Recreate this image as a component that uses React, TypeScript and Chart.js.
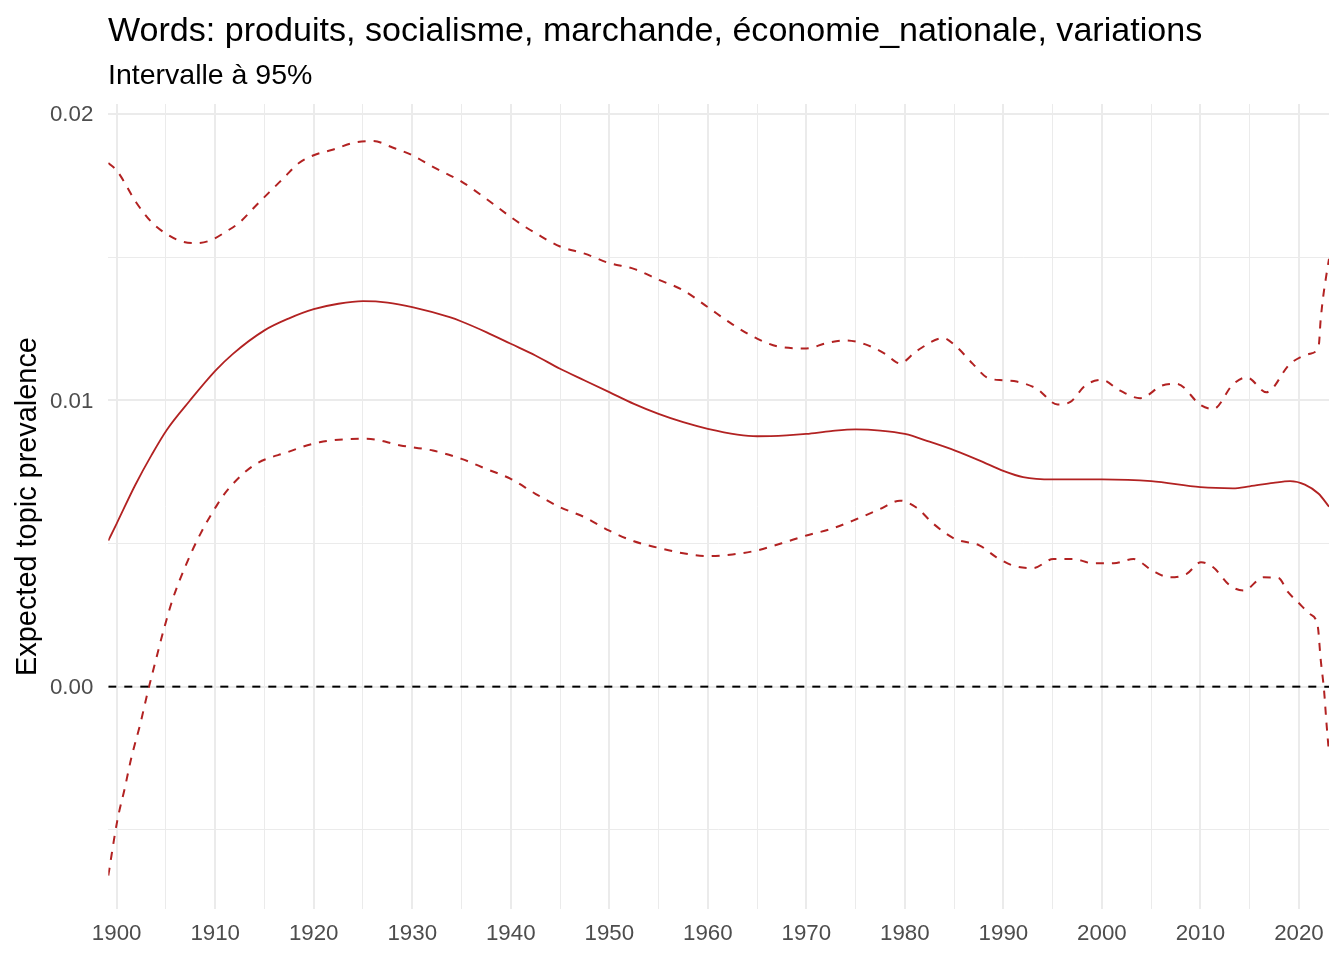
import React, { useEffect, useRef } from "react";
import { Chart, registerables } from "chart.js";

Chart.register(...registerables);

const titleText = "Words: produits, socialisme, marchande, économie_nationale, variations";
const subtitleText = "Intervalle à 95%";
const yAxisTitle = "Expected topic prevalence";

const xMin = 1899.15;
const xMax = 2023.05;
const yMin = -0.00777;
const yMax = 0.02036;

const xTickValues = [1900, 1905, 1910, 1915, 1920, 1925, 1930, 1935, 1940, 1945, 1950, 1955, 1960, 1965, 1970, 1975, 1980, 1985, 1990, 1995, 2000, 2005, 2010, 2015, 2020];
const xMajorTicks = [1900, 1910, 1920, 1930, 1940, 1950, 1960, 1970, 1980, 1990, 2000, 2010, 2020];
const yTickValues = [-0.005, 0, 0.005, 0.01, 0.015, 0.02];
const yMajorTicks = [0, 0.01, 0.02];
const yTickLabels = ["0.00", "0.01", "0.02"];

const midYears = [1899.15, 1900, 1901.86, 1903.55, 1905.1, 1907.44, 1910.05, 1911.8, 1915, 1917.5, 1920, 1922.5, 1925, 1927.5, 1930, 1933.8, 1935, 1937.5, 1940, 1942.5, 1945, 1947.5, 1950, 1952.5, 1955, 1957.5, 1960, 1963, 1965, 1968, 1970, 1972.5, 1975, 1977.5, 1980, 1982.5, 1985.1, 1987.6, 1990.06, 1992, 1995, 2000, 2005, 2010, 2013.3, 2015, 2017.4, 2019.1, 2020.6, 2022, 2023.05];
const midValues = [0.0051, 0.0057, 0.00703, 0.0081, 0.00898, 0.01, 0.01105, 0.01163, 0.01245, 0.01287, 0.01319, 0.01338, 0.01347, 0.01342, 0.01326, 0.01291, 0.01276, 0.01239, 0.01198, 0.01157, 0.01111, 0.0107, 0.01029, 0.00988, 0.00953, 0.00924, 0.00901, 0.00881, 0.00875, 0.00878, 0.00883, 0.00893, 0.00899, 0.00895, 0.00883, 0.00856, 0.00825, 0.0079, 0.00753, 0.00732, 0.00724, 0.00724, 0.00718, 0.00697, 0.00693, 0.007, 0.00712, 0.00718, 0.00706, 0.00674, 0.00629];

const upperYears = [1899.15, 1900, 1902, 1903.55, 1905, 1906.5, 1908, 1909.5, 1911, 1912.5, 1914, 1915.5, 1917, 1918.5, 1920, 1922, 1924, 1926, 1928, 1930, 1932, 1935, 1937.5, 1940, 1941.4, 1942.5, 1945, 1947.5, 1950, 1952.5, 1955, 1957.5, 1960, 1962.5, 1965, 1967.5, 1970, 1972, 1974, 1976, 1978, 1979.5, 1981.2, 1983.9, 1985.1, 1986.9, 1988.3, 1990.1, 1991.35, 1993.4, 1995.5, 1996.8, 1998.3, 2000, 2001.8, 2003.9, 2006.1, 2007.6, 2010.06, 2011.3, 2013.3, 2014.7, 2016.7, 2019.1, 2021.1, 2022, 2022.2, 2022.45, 2022.75, 2023.05];
const upperValues = [0.0183, 0.01804, 0.01691, 0.01623, 0.01583, 0.01557, 0.0155, 0.01559, 0.01588, 0.01623, 0.01676, 0.01728, 0.01779, 0.0183, 0.01857, 0.01877, 0.019, 0.01907, 0.01884, 0.01857, 0.01818, 0.01765, 0.01705, 0.01641, 0.01608, 0.01585, 0.01538, 0.01513, 0.0148, 0.0146, 0.01422, 0.01385, 0.01326, 0.01266, 0.01216, 0.01186, 0.01182, 0.012, 0.0121, 0.01196, 0.01163, 0.0113, 0.01173, 0.01218, 0.01192, 0.01128, 0.01081, 0.0107, 0.01066, 0.01041, 0.00986, 0.00995, 0.01052, 0.01072, 0.01035, 0.01008, 0.01052, 0.01058, 0.00983, 0.0097, 0.01056, 0.01081, 0.01029, 0.01128, 0.01163, 0.0119, 0.0128, 0.0136, 0.01431, 0.01495];

const lowerYears = [1899.15, 1900.06, 1900.84, 1901.5, 1902.4, 1903.1, 1903.96, 1904.8, 1905.7, 1907, 1908.5, 1910.1, 1911.2, 1913.9, 1917.3, 1920.6, 1925.4, 1928.8, 1932.1, 1935, 1937.5, 1940, 1942.5, 1945, 1947.5, 1950, 1952.5, 1955, 1957.5, 1960, 1962.5, 1965, 1967.5, 1970, 1972.5, 1975, 1977.5, 1979.5, 1981.2, 1982.9, 1985.1, 1987.6, 1989.3, 1991, 1993, 1995.07, 1997.1, 1999.1, 2001.2, 2003.2, 2005.1, 2006.9, 2008.6, 2010.06, 2011.3, 2013, 2014.4, 2016.4, 2017.9, 2018.9, 2019.9, 2021.1, 2021.9, 2022.2, 2022.55, 2022.8, 2023.05];
const lowerValues = [-0.0066, -0.00469, -0.00352, -0.00247, -0.0013, -0.00026, 0.00091, 0.00202, 0.00307, 0.00423, 0.00534, 0.0063, 0.00685, 0.00773, 0.00819, 0.00854, 0.00866, 0.00843, 0.00825, 0.00796, 0.00761, 0.00726, 0.00674, 0.00627, 0.00592, 0.00545, 0.00508, 0.00485, 0.00466, 0.00456, 0.00462, 0.00476, 0.00501, 0.00528, 0.00551, 0.00584, 0.00621, 0.0065, 0.00625, 0.00569, 0.00516, 0.00493, 0.00452, 0.00423, 0.00414, 0.00446, 0.00446, 0.00431, 0.00431, 0.00446, 0.00406, 0.00382, 0.00394, 0.00435, 0.00417, 0.00353, 0.00336, 0.00382, 0.0038, 0.0033, 0.00295, 0.00254, 0.00213, 0.00097, -0.00014, -0.0013, -0.00233];

const zeroYears = [xMin, xMax];
const zeroValues = [0, 0];

const FONT = '"Liberation Sans", Arial, Helvetica, sans-serif';
const RED = "#B22222";

const toPoints = (xs: number[], ys: number[]) => xs.map((x, i) => ({ x, y: ys[i] }));
const near = (a: number, b: number) => Math.abs(a - b) < 1e-9;

const titlesPlugin = {
  id: "titlesPlugin",
  beforeDraw(chart: any) {
    const ctx = chart.ctx;
    ctx.save();
    ctx.fillStyle = "#ffffff";
    ctx.fillRect(0, 0, chart.width, chart.height);
    ctx.restore();
  },
  afterDraw(chart: any) {
    const ctx = chart.ctx;
    ctx.save();
    ctx.fillStyle = "#000000";
    ctx.textAlign = "left";
    ctx.textBaseline = "alphabetic";
    ctx.font = `34.1px ${FONT}`;
    ctx.fillText(titleText, 108, 41);
    ctx.font = `28.5px ${FONT}`;
    ctx.fillText(subtitleText, 108, 83.5);
    ctx.restore();
  },
};

export default function App() {
  const canvasRef = useRef<HTMLCanvasElement | null>(null);

  useEffect(() => {
    if (!canvasRef.current) return;
    const lineCommon = {
      pointRadius: 0,
      pointHoverRadius: 0,
      fill: false,
      cubicInterpolationMode: "monotone" as const,
    };
    const chart = new Chart(canvasRef.current, {
      type: "line",
      data: {
        datasets: [
          {
            ...lineCommon,
            label: "zero",
            data: toPoints(zeroYears, zeroValues),
            borderColor: "#000000",
            borderWidth: 2,
            borderDash: [8, 8],
            cubicInterpolationMode: "default",
            tension: 0,
          },
          {
            ...lineCommon,
            label: "mean",
            data: toPoints(midYears, midValues),
            borderColor: RED,
            borderWidth: 1.8,
          },
          {
            ...lineCommon,
            label: "upper",
            data: toPoints(upperYears, upperValues),
            borderColor: RED,
            borderWidth: 2,
            borderDash: [8, 8],
          },
          {
            ...lineCommon,
            label: "lower",
            data: toPoints(lowerYears, lowerValues),
            borderColor: RED,
            borderWidth: 2,
            borderDash: [8, 8],
          },
        ],
      },
      options: {
        animation: false,
        responsive: false,
        devicePixelRatio: 1,
        layout: { padding: { top: 104, right: 15, left: 0, bottom: 0 } },
        plugins: {
          legend: { display: false },
          tooltip: { enabled: false },
          title: { display: false },
        },
        scales: {
          x: {
            type: "linear",
            min: xMin,
            max: xMax,
            afterBuildTicks: (scale: any) => {
              scale.ticks = xTickValues.map((v) => ({ value: v }));
            },
            afterFit: (scale: any) => {
              scale.height = 51;
            },
            border: { display: false },
            grid: {
              drawTicks: false,
              color: "#EBEBEB",
              lineWidth: (ctx: any) =>
                ctx.tick && xMajorTicks.some((m) => near(m, ctx.tick.value)) ? 2 : 1,
            },
            ticks: {
              autoSkip: false,
              maxRotation: 0,
              padding: 11,
              color: "#4D4D4D",
              font: { size: 22.3, family: FONT },
              callback: (v: any) => {
                const i = xMajorTicks.findIndex((m) => near(m, Number(v)));
                return i >= 0 ? String(xMajorTicks[i]) : "";
              },
            },
          },
          y: {
            type: "linear",
            min: yMin,
            max: yMax,
            afterBuildTicks: (scale: any) => {
              scale.ticks = yTickValues.map((v) => ({ value: v }));
            },
            afterFit: (scale: any) => {
              scale.width = 108.3;
            },
            border: { display: false },
            grid: {
              drawTicks: false,
              color: "#EBEBEB",
              lineWidth: (ctx: any) =>
                ctx.tick && yMajorTicks.some((m) => near(m, ctx.tick.value)) ? 2 : 1,
            },
            title: {
              display: true,
              text: yAxisTitle,
              color: "#000000",
              font: { size: 28.9, family: FONT },
              padding: { top: 10.5, bottom: 0 },
            },
            ticks: {
              autoSkip: false,
              padding: 15,
              labelOffset: 1,
              color: "#4D4D4D",
              font: { size: 22.3, family: FONT },
              callback: (v: any) => {
                const i = yMajorTicks.findIndex((m) => near(m, Number(v)));
                return i >= 0 ? yTickLabels[i] : "";
              },
            },
          },
        },
      },
      plugins: [titlesPlugin],
    });
    return () => chart.destroy();
  }, []);

  return (
    <div style={{ position: "fixed", left: 0, top: 0, width: 1344, height: 960, background: "#ffffff" }}>
      <canvas ref={canvasRef} width={1344} height={960} style={{ display: "block", width: 1344, height: 960 }} />
    </div>
  );
}
